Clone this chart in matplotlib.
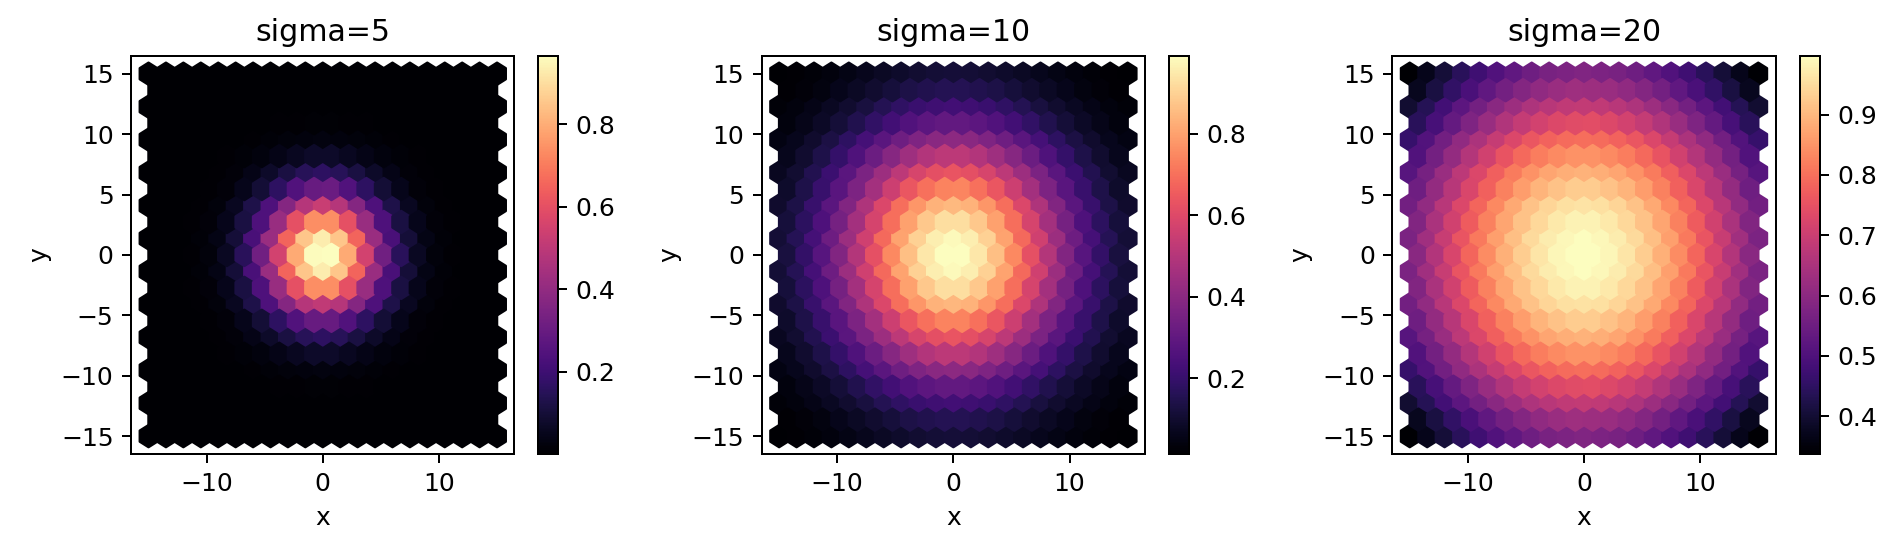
import numpy as np
from matplotlib import pyplot as plt

# sample grid and the three widths shown in the panel titles
grid = np.linspace(-15, 15, 61)
sigmas = [5, 10, 20]

X, Y = np.meshgrid(grid, grid)
x = X.ravel()
y = Y.ravel()

fig, axes = plt.subplots(1, 3, figsize=(1900 / 180, 556 / 180))
fig.subplots_adjust(left=0.069, right=0.985, top=0.9, bottom=0.183, wspace=0.316)
for ax, sigma in zip(axes, sigmas):
    z = np.exp(-(x**2 + y**2) / sigma**2)
    hb = ax.hexbin(x, y, C=z, gridsize=20, cmap='magma')
    fig.colorbar(hb, ax=ax)
    ax.set_title("sigma={}".format(sigma))
    ax.set_xlabel("x")
    ax.set_ylabel("y")

plt.savefig("out.png", dpi=180)
